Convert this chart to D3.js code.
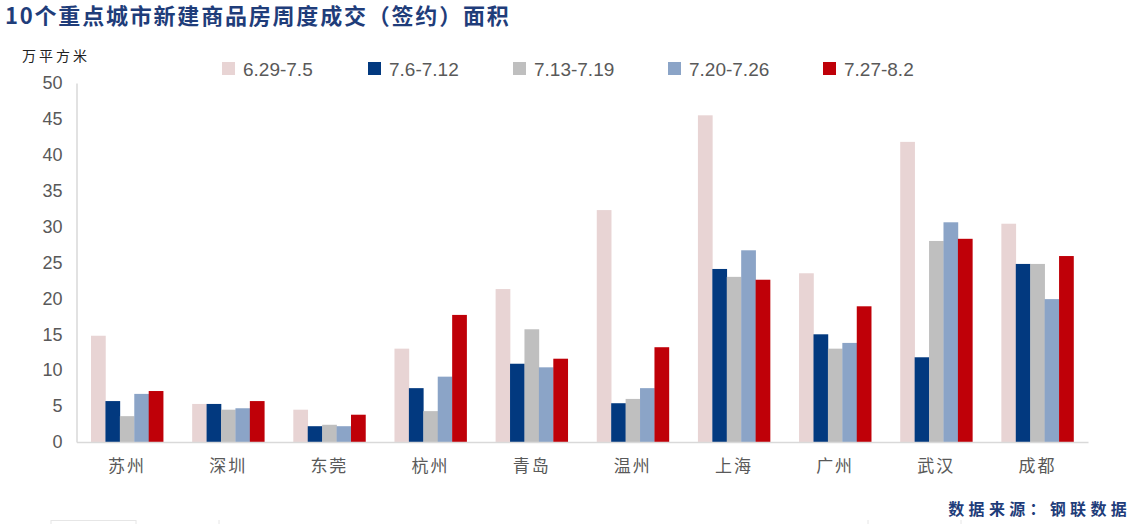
<!DOCTYPE html>
<html><head><meta charset="utf-8">
<script src="https://cdn.jsdelivr.net/npm/d3@7"></script>
<style>
html,body{margin:0;padding:0;background:#fff;}
svg{display:block;}
</style></head>
<body>
<svg id="c" width="1135" height="524"></svg>
<script>
const cities = ["苏州","深圳","东莞","杭州","青岛","温州","上海","广州","武汉","成都"];
const seriesNames = ["6.29-7.5","7.6-7.12","7.13-7.19","7.20-7.26","7.27-8.2"];
const s1 = [14.8, 5.3, 4.5, 13.0, 21.3, 32.3, 45.5, 23.5, 41.8, 30.4];
const s2 = [5.7, 5.3, 2.2, 7.5, 10.9, 5.4, 24.1, 15.0, 11.8, 24.8];
const s3 = [3.6, 4.5, 2.4, 4.3, 15.7, 6.0, 23.0, 13.0, 28.0, 24.8];
const s4 = [6.7, 4.7, 2.2, 9.1, 10.4, 7.5, 26.7, 13.8, 30.6, 19.9];
const s5 = [7.1, 5.7, 3.8, 17.7, 11.6, 13.2, 22.6, 18.9, 28.3, 25.9];
const yTicks = [0,5,10,15,20,25,30,35,40,45,50];
const colors = ["#e8d4d4","#02397f","#bfbfbf","#8ba4c7","#bf0008"];
const seriesValues = [s1,s2,s3,s4,s5];

(function(){
const svg = d3.select("#c");
const pLeft = 76.5, pRight = 1088, pTop = 83, pBottom = 442;

const x0 = d3.scaleBand().domain(cities).range([pLeft, pRight]).paddingInner(0.287).paddingOuter(0.1435);
const x1 = d3.scaleBand().domain(seriesNames).range([0, x0.bandwidth()]);
const y = d3.scaleLinear().domain([0, 50]).range([pBottom, pTop]);

svg.append("text").attr("x", 5).attr("y", 23.5)
  .attr("font-family", "Noto Sans CJK SC").attr("font-weight", "bold")
  .attr("font-size", 22).attr("letter-spacing", 1.8).attr("fill", "#1f3d7a")
  .text("10个重点城市新建商品房周度成交（签约）面积");

svg.append("text").attr("x", 22).attr("y", 61)
  .attr("font-family", "Noto Sans CJK SC").attr("font-size", 14)
  .attr("letter-spacing", 3).attr("fill", "#222")
  .text("万平方米");

const groups = svg.append("g").selectAll("g").data(cities).join("g")
  .attr("transform", d => `translate(${x0(d)},0)`);
groups.selectAll("rect").data((c, i) => seriesNames.map((s, k) => ({s, k, v: seriesValues[k][i]})))
  .join("rect")
  .attr("x", d => x1(d.s)).attr("width", x1.bandwidth() + 0.3)
  .attr("y", d => y(d.v)).attr("height", d => y(0) - y(d.v))
  .attr("fill", d => colors[d.k]);

const yAxis = d3.axisLeft(y).tickValues(yTicks).tickSize(0).tickPadding(14);
const gy = svg.append("g").attr("transform", `translate(${pLeft},0)`).call(yAxis);
gy.select(".domain").attr("stroke", "#d9d9d9").attr("stroke-width", 1.5);
gy.selectAll("text").attr("font-family", "Liberation Sans").attr("font-size", 18).attr("fill", "#595959");

const xAxis = d3.axisBottom(x0).tickSize(0).tickPadding(18);
const gx = svg.append("g").attr("transform", `translate(0,${pBottom})`).call(xAxis);
gx.select(".domain").attr("stroke", "#d9d9d9").attr("stroke-width", 1.5);
gx.selectAll("text").attr("font-family", "Noto Sans CJK SC").attr("font-size", 17)
  .attr("letter-spacing", 2).attr("fill", "#595959");

const legX = [222, 368, 513, 668, 823];
const leg = svg.append("g").selectAll("g").data(seriesNames).join("g")
  .attr("transform", (d, i) => `translate(${legX[i]},62)`);
leg.append("rect").attr("width", 13).attr("height", 13).attr("fill", (d, i) => colors[i]);
leg.append("text").attr("x", 21).attr("y", 13.5)
  .attr("font-family", "Liberation Sans Narrow, Liberation Sans").attr("font-size", 19)
  .attr("fill", "#595959").text(d => d);

svg.append("text").attr("x", 1131).attr("y", 515).attr("text-anchor", "end")
  .attr("font-family", "Noto Sans CJK SC").attr("font-weight", "bold")
  .attr("font-size", 16).attr("letter-spacing", 4.3).attr("fill", "#1f3d7a")
  .text("数据来源：钢联数据");

svg.append("rect").attr("x", 51).attr("y", 520.5).attr("width", 85).attr("height", 6)
  .attr("fill", "none").attr("stroke", "#e6e6e6");
[219, 868, 961].forEach(xx => svg.append("line").attr("x1", xx).attr("x2", xx)
  .attr("y1", 520).attr("y2", 524).attr("stroke", "#e6e6e6"));
})();
</script>
</body></html>
